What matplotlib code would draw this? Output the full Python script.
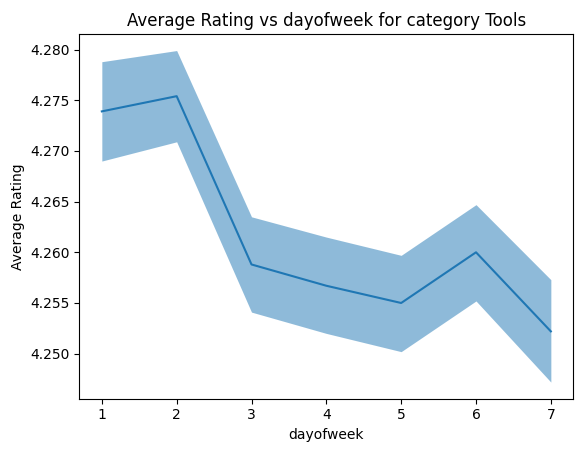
import matplotlib
matplotlib.use("Agg")
import matplotlib.pyplot as plt

days = [1, 2, 3, 4, 5, 6, 7]
mean_rating = [4.2739, 4.2754, 4.2588, 4.2567, 4.2550, 4.2600, 4.2522]
upper = [4.2788, 4.2799, 4.2635, 4.2615, 4.2597, 4.2647, 4.2573]
lower = [4.2690, 4.2709, 4.2541, 4.2520, 4.2502, 4.2552, 4.2472]

fig, ax = plt.subplots(figsize=(5.88, 4.53), dpi=100)
ax.plot(days, mean_rating, color="#1f77b4")
ax.fill_between(days, lower, upper, color="#1f77b4", alpha=0.5, linewidth=0)
ax.set_xlabel("dayofweek")
ax.set_ylabel("Average Rating")
ax.set_title("Average Rating vs dayofweek for category Tools")
ax.yaxis.set_major_formatter(matplotlib.ticker.FormatStrFormatter("%.3f"))
fig.subplots_adjust(left=0.135, right=0.975, top=0.925, bottom=0.12)
fig.savefig("out.png")
